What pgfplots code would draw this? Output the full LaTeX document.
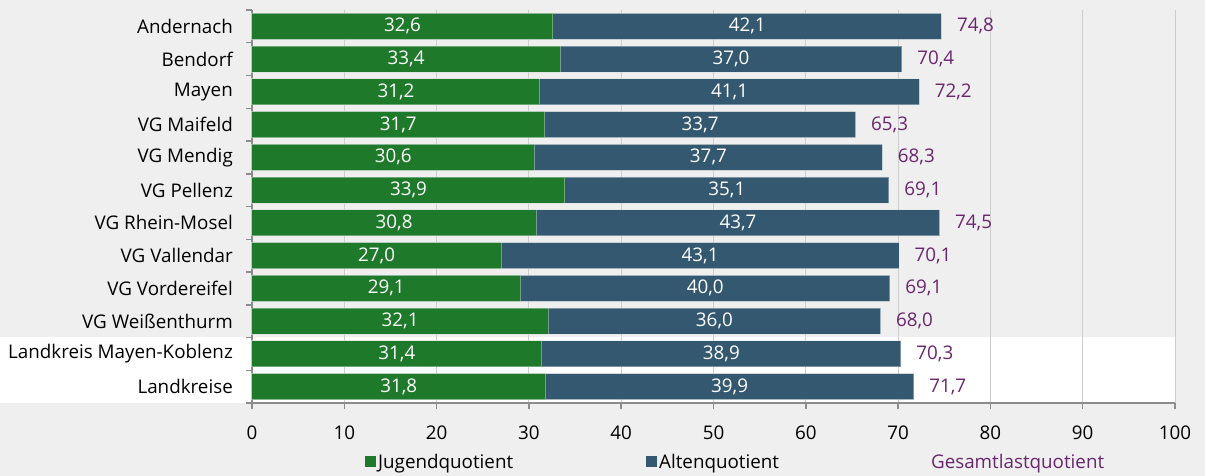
\documentclass[border=0pt]{standalone}
\usepackage{fontspec}
\setmainfont{Open Sans}
\usepackage{pgfplots}
\pgfplotsset{compat=1.18}
\usepackage{pgfplotstable}
\usetikzlibrary{backgrounds}
\definecolor{jgreen}{RGB}{30,122,42}
\definecolor{ablue}{RGB}{52,88,112}
\definecolor{gpurple}{RGB}{106,38,110}
\definecolor{bggray}{RGB}{238,239,238}
\definecolor{gridgray}{RGB}{205,205,205}
\definecolor{axisgray}{RGB}{140,140,140}

\pgfplotstableread{
idx name j a g
0 Andernach 32.6 42.1 74.8
1 Bendorf 33.4 37.0 70.4
2 Mayen 31.2 41.1 72.2
3 {VG Maifeld} 31.7 33.7 65.3
4 {VG Mendig} 30.6 37.7 68.3
5 {VG Pellenz} 33.9 35.1 69.1
6 {VG Rhein-Mosel} 30.8 43.7 74.5
7 {VG Vallendar} 27.0 43.1 70.1
8 {VG Vordereifel} 29.1 40.0 69.1
9 {VG Weißenthurm} 32.1 36.0 68.0
10 {Landkreis Mayen-Koblenz} 31.4 38.9 70.3
11 Landkreise 31.8 39.9 71.7
}\data

\begin{document}
\begin{tikzpicture}[font=\fontsize{18.8}{22}\selectfont]
\begin{axis}[
  scale only axis, width=923pt, height=393pt,
  at={(0pt,0pt)}, anchor=south west,
  xmin=0, xmax=100, ymin=-0.5, ymax=11.5, y dir=reverse,
  axis x line*=bottom, axis y line*=left,
  axis line style={draw=axisgray, line width=1.5pt},
  xtick={0,10,...,100},
  ytick={0,...,11},
  yticklabels from table={\data}{name},
  minor ytick={-0.5,0.5,...,11.5},
  tick align=outside,
  major tick length=6pt, minor tick length=6pt,
  every tick/.style={draw=axisgray, line width=1.5pt},
  every major y tick/.append style={draw=none},
  xmajorgrids, grid style={draw=gridgray, line width=1pt},
  xticklabel style={anchor=north, inner sep=0pt, yshift=-17pt},
  yticklabel style={anchor=east, inner sep=0pt, xshift=-13pt},
  /pgf/number format/assume math mode=true,
  clip=false,
  legend image code/.code={\path[#1, draw=none] (0pt,-5.5pt) rectangle (11pt,5.5pt);},
  legend cell align=left,
  legend style={at={(axis description cs:0.1224,-0.150)}, anchor=west,
    draw=none, fill=none, inner sep=0pt, legend columns=3,
    /tikz/column 2/.style={column sep=131pt},
    /tikz/column 4/.style={column sep=148pt}},
]
\addplot[xbar, bar width=26pt, bar shift=0pt, fill=ablue, draw=white, draw opacity=0.35, line width=1pt, forget plot]
  table[x expr=\thisrow{j}+\thisrow{a}, y=idx]{\data};
\addplot[xbar, bar width=26pt, bar shift=0pt, fill=jgreen, draw=white, draw opacity=0.35, line width=1pt]
  table[x=j, y=idx]{\data};
\addlegendentry{Jugendquotient}
\addlegendimage{fill=ablue}
\addlegendentry{Altenquotient}
\addplot[only marks, mark=none, forget plot, point meta=explicit,
  nodes near coords={\pgfmathprintnumber[use comma,fixed,fixed zerofill,precision=1,assume math mode=true]{\pgfplotspointmeta}},
  every node near coord/.append style={anchor=center, text=white}]
  table[x expr=\thisrow{j}/2, y=idx, meta=j]{\data};
\addplot[only marks, mark=none, forget plot, point meta=explicit,
  nodes near coords={\pgfmathprintnumber[use comma,fixed,fixed zerofill,precision=1,assume math mode=true]{\pgfplotspointmeta}},
  every node near coord/.append style={anchor=center, text=white}]
  table[x expr=\thisrow{j}+\thisrow{a}/2, y=idx, meta=a]{\data};
\addplot[only marks, mark=none, point meta=explicit,
  legend image code/.code={},
  nodes near coords={\pgfmathprintnumber[use comma,fixed,fixed zerofill,precision=1,assume math mode=true]{\pgfplotspointmeta}},
  every node near coord/.append style={anchor=west, xshift=12pt, text=gpurple}]
  table[x expr=\thisrow{j}+\thisrow{a}, y=idx, meta=g]{\data};
\addlegendentry{\textcolor{gpurple}{Gesamtlastquotient}}
\coordinate (wb) at (axis cs:100,9.5);
\end{axis}
\pgfresetboundingbox
\path[use as bounding box] (-252pt,-73pt) rectangle (953pt,403pt);
\begin{scope}[on background layer]
\fill[bggray] (-252pt,-73pt) rectangle (953pt,403pt);
\fill[white] (-252pt,0pt) rectangle (wb);
\end{scope}
\end{tikzpicture}
\end{document}
